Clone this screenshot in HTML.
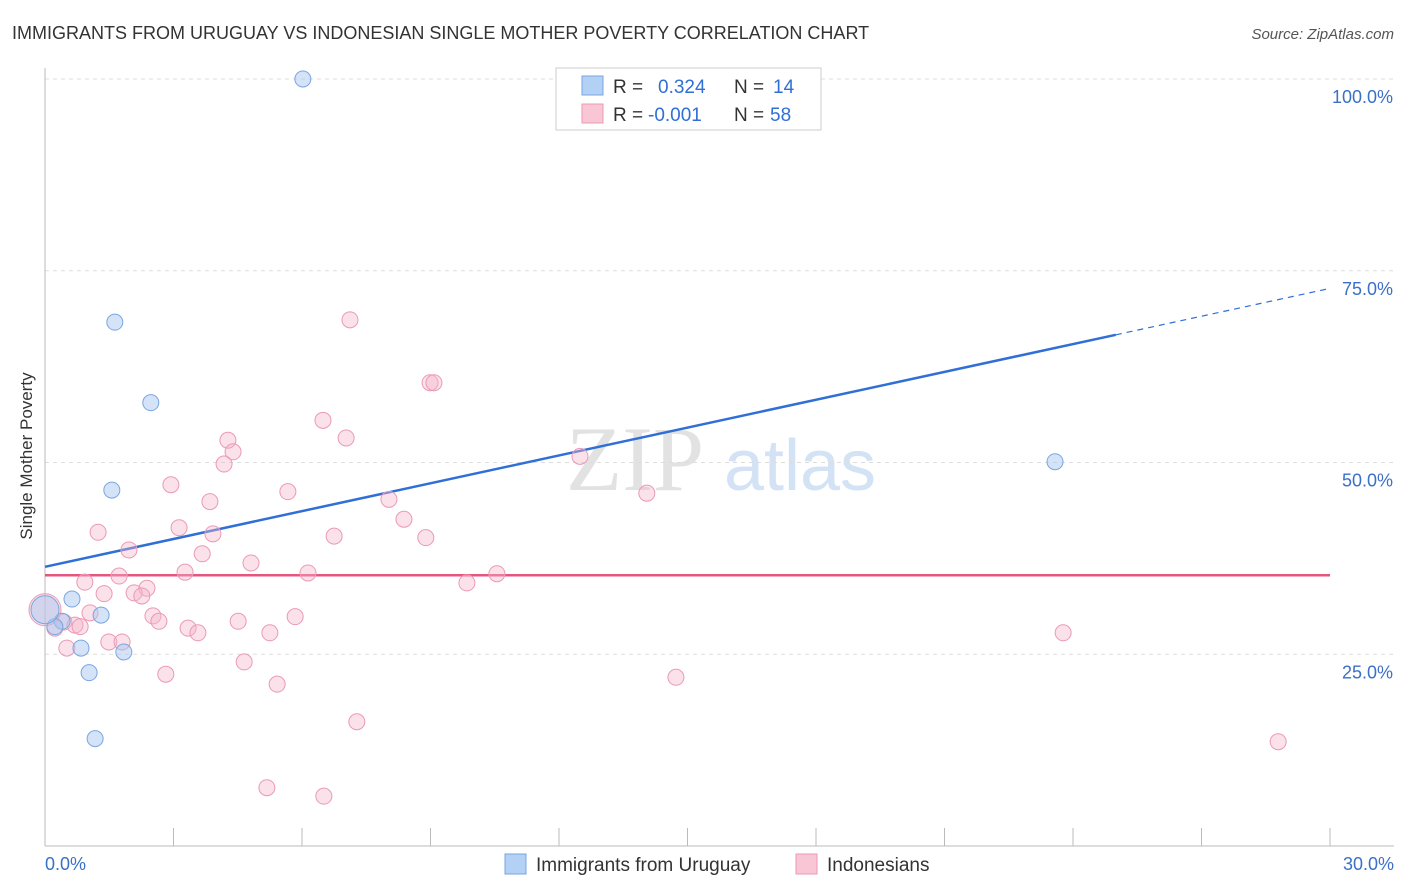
<!DOCTYPE html>
<html><head><meta charset="utf-8"><style>
body{margin:0;background:#fff;font-family:"Liberation Sans",sans-serif}
svg{display:block}
</style></head><body>
<svg id="c" width="1406" height="892" xmlns="http://www.w3.org/2000/svg">
<text x="12" y="39" font-size="18" fill="#333">IMMIGRANTS FROM URUGUAY VS INDONESIAN SINGLE MOTHER POVERTY CORRELATION CHART</text>
<text x="1394" y="39" font-size="15" fill="#555" font-style="italic" text-anchor="end">Source: ZipAtlas.com</text>
<text x="32" y="456" font-size="17" fill="#333" text-anchor="middle" transform="rotate(-90 32 456)">Single Mother Poverty</text>
<g><text x="635" y="490" font-size="92" fill="#e2e2e2" font-family="Liberation Serif,serif" text-anchor="middle">ZIP</text><text x="800" y="490" font-size="72" fill="#d3e2f4" text-anchor="middle">atlas</text></g>
<g id="grid"></g><g id="axes"></g><g id="lines"></g><g id="pts"></g>
<g>
<rect x="556" y="68" width="265" height="62" fill="#fff" stroke="#ccc"/>
<rect x="582" y="76" width="21" height="19" fill="#b3d0f5" stroke="#7aa6e0"/>
<rect x="582" y="104" width="21" height="19" fill="#f9c6d6" stroke="#eb9ab4"/>
<g font-size="19" fill="#333">
<text x="613" y="93">R =</text><text x="658" y="93" fill="#2f6fd6">0.324</text><text x="734" y="93">N =</text><text x="773" y="93" fill="#2f6fd6">14</text>
<text x="613" y="121">R =</text><text x="648" y="121" fill="#2f6fd6">-0.001</text><text x="734" y="121">N =</text><text x="770" y="121" fill="#2f6fd6">58</text>
</g>
</g>
<g>
<rect x="505" y="854" width="21" height="20" fill="#b3d0f5" stroke="#7aa6e0"/>
<text x="536" y="871" font-size="19" fill="#333">Immigrants from Uruguay</text>
<rect x="796" y="854" width="21" height="20" fill="#f9c6d6" stroke="#eb9ab4"/>
<text x="827" y="871" font-size="19" fill="#333">Indonesians</text>
</g>
</svg>
<script>
const blueX=[6.02,1.63,2.47,1.56,23.58,0.63,1.31,0.40,0.23,0.84,1.84,1.03,1.17,0];
const blueY=[100,68.3,57.8,46.4,50.1,32.2,30.1,29.3,28.6,25.8,25.3,22.6,14.0,30.8];
const pinkX=[7.12,8.99,9.08,6.49,7.03,4.27,4.39,4.18,12.49,2.94,5.67,14.05,3.85,8.03,8.38,3.13,1.24,6.75,8.89,3.92,1.96,3.67,4.81,3.27,6.14,10.55,1.73,9.85,0.93,2.38,2.08,1.38,2.26,1.05,2.52,2.66,5.84,4.51,0.44,0.70,0.82,3.34,3.57,5.25,23.77,1.49,1.80,0.51,4.65,2.82,14.73,5.42,7.28,28.79,5.18,6.51,0.23,0];
const pinkY=[68.6,60.4,60.4,55.5,53.2,52.9,51.4,49.8,50.8,47.1,46.2,46.0,44.9,45.2,42.6,41.5,40.9,40.4,40.2,40.7,38.6,38.1,36.9,35.7,35.6,35.5,35.2,34.3,34.4,33.6,33.0,32.9,32.6,30.4,30.0,29.3,29.9,29.3,29.2,28.8,28.6,28.4,27.8,27.8,27.8,26.6,26.6,25.8,24.0,22.4,22.0,21.1,16.2,13.6,7.6,6.5,28.4,30.8];
const blueTrend=[36.4,72.7];
const pinkTrend=[35.3,35.3];
const yTicks=[100,75,50,25];
const yTickLabels=["100.0%","75.0%","50.0%","25.0%"];
const xLabels=["0.0%","30.0%"];
const X=v=>45+v/30*1285, Y=v=>846-v/100*767;
const NS="http://www.w3.org/2000/svg";
function mk(p,t,a){const e=document.createElementNS(NS,t);for(const k in a)e.setAttribute(k,a[k]);p.appendChild(e);return e;}
const grid=document.getElementById('grid'),axes=document.getElementById('axes'),lines=document.getElementById('lines'),pts=document.getElementById('pts');
yTicks.forEach((t,i)=>{
 const l=mk(grid,'line',{x1:45,x2:1394,y1:Y(t),y2:Y(t),stroke:'#ddd','stroke-dasharray':'4 4'});
 
 
 const tx=mk(axes,'text',{x:1393,y:Y(t)+24,'font-size':18,fill:'#3a70c8','text-anchor':'end'});tx.textContent=yTickLabels[i];
 
 
});
const ax=mk(axes,'line',{x1:45,x2:1394,y1:846,y2:846,stroke:'#bbb'});


const ay=mk(axes,'line',{x1:45,x2:45,y1:68,y2:846,stroke:'#bbb'});


for(let i=0;i<=10;i++){const t=mk(axes,'line',{x1:X(i*3),x2:X(i*3),y1:828,y2:846,stroke:'#bbb'});
 
 }
const xl0=mk(axes,'text',{x:45,y:870,'font-size':18,fill:'#3a70c8'});xl0.textContent=xLabels[0];


const xl1=mk(axes,'text',{x:1394,y:870,'font-size':18,fill:'#3a70c8','text-anchor':'end'});xl1.textContent=xLabels[1];


function circ(x,y,fill,stroke,r,name){const c=mk(pts,'circle',{cx:X(x),cy:Y(y),r:r,fill:fill,stroke:stroke,'stroke-width':1});
 
 }
pinkX.forEach((x,i)=>circ(x,pinkY[i],'rgba(246,180,202,0.4)','#eb9ab4',x===0?16:8,'indonesians-point'));
blueX.forEach((x,i)=>circ(x,blueY[i],'rgba(170,200,240,0.5)','#7aa6e0',x===0?14:8,'uruguay-point'));
const bEnd=25;
const by=v=>blueTrend[0]+(blueTrend[1]-blueTrend[0])*v/30;
const b1=mk(lines,'line',{x1:X(0),y1:Y(by(0)),x2:X(bEnd),y2:Y(by(bEnd)),stroke:'#2f6fd6','stroke-width':2.5});


const b2=mk(lines,'line',{x1:X(bEnd),y1:Y(by(bEnd)),x2:X(30),y2:Y(by(30)),stroke:'#2f6fd6','stroke-width':1.2,'stroke-dasharray':'6 5'});


const p1=mk(lines,'line',{x1:X(0),y1:Y(pinkTrend[0]),x2:X(30),y2:Y(pinkTrend[1]),stroke:'#e4557f','stroke-width':2.5});


</script>
</body></html>
